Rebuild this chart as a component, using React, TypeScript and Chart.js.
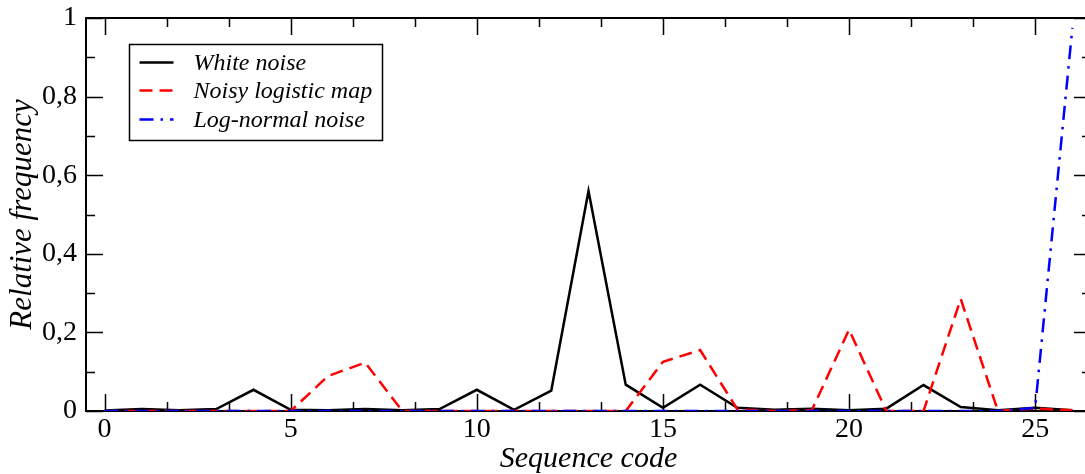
import React, { useEffect, useRef } from 'react';
import { Chart, registerables } from 'chart.js';

Chart.register(...registerables);

const CODES = [0, 1, 2, 3, 4, 5, 6, 7, 8, 9, 10, 11, 12, 13, 14, 15, 16, 17, 18, 19, 20, 21, 22, 23, 24, 25, 26];
const WHITE_NOISE = [0.001, 0.005, 0.002, 0.005, 0.054, 0.003, 0.002, 0.005, 0.002, 0.005, 0.054, 0.003, 0.052, 0.56, 0.067, 0.008, 0.067, 0.008, 0.003, 0.006, 0.002, 0.006, 0.066, 0.01, 0.002, 0.008, 0.002];
const LOGISTIC_MAP = [0, 0, 0, 0, 0, 0, 0.089, 0.123, 0, 0, 0, 0, 0, 0, 0, 0.125, 0.155, 0.004, 0, 0.002, 0.207, 0, 0, 0.285, 0, 0.006, 0.002];
const LOG_NORMAL = [0, 0, 0, 0, 0, 0, 0, 0, 0, 0, 0, 0, 0, 0, 0, 0, 0, 0, 0, 0, 0, 0, 0, 0, 0, 0.008, 0.975];

const SERIES_NAMES = ['White noise', 'Noisy logistic map', 'Log-normal noise'];
const X_TICKS = [0, 5, 10, 15, 20, 25];
const X_TICK_LABELS = ['0', '5', '10', '15', '20', '25'];
const Y_TICKS = [0, 0.2, 0.4, 0.6, 0.8, 1];
const Y_TICK_LABELS = ['0', '0,2', '0,4', '0,6', '0,8', '1'];

const SERIF = '"Liberation Serif", "Times New Roman", serif';
const RED_DASH = [13, 7];
const BLUE_DASH = [14, 7, 2.5, 7];

const framePlugin = {
  id: 'xmgFrame',
  beforeDatasetsDraw(chart: any) {
    const { ctx, chartArea: a, scales } = chart;
    const xs = scales.x;
    const ys = scales.y;
    ctx.save();
    ctx.strokeStyle = '#000';
    ctx.lineWidth = 1.5;
    const major = 17;
    const minor = 9;
    for (let k = -3; k <= 18; k++) {
      const v = (k * 5) / 3;
      if (v < xs.min || v > xs.max) continue;
      const px = Math.round(xs.getPixelForValue(v)) + 0.5;
      const len = k % 3 === 0 ? major : minor;
      ctx.beginPath();
      ctx.moveTo(px, a.bottom);
      ctx.lineTo(px, a.bottom - len);
      ctx.moveTo(px, a.top);
      ctx.lineTo(px, a.top + len);
      ctx.stroke();
    }
    for (let k = 0; k <= 10; k++) {
      const v = k / 10;
      const py = Math.round(ys.getPixelForValue(v)) + 0.5;
      const len = k % 2 === 0 ? major : minor;
      ctx.beginPath();
      ctx.moveTo(a.left, py);
      ctx.lineTo(a.left + len, py);
      ctx.moveTo(a.right, py);
      ctx.lineTo(a.right - len, py);
      ctx.stroke();
    }
    ctx.lineWidth = 2;
    ctx.strokeRect(a.left, a.top, a.right - a.left, a.bottom - a.top);
    ctx.restore();
  },
  afterDatasetsDraw(chart: any) {
    const { ctx, chartArea: a } = chart;
    ctx.save();
    const bx = a.left + 43.5;
    const by = a.top + 26.5;
    ctx.strokeStyle = '#000';
    ctx.lineWidth = 1.5;
    ctx.fillStyle = '#fff';
    ctx.fillRect(bx, by, 253, 96);
    ctx.strokeRect(bx, by, 253, 96);
    const rows = [by + 18, by + 46, by + 75];
    ctx.font = `italic 24px ${SERIF}`;
    ctx.textBaseline = 'middle';
    chart.data.datasets.forEach((ds: any, i: number) => {
      ctx.save();
      ctx.strokeStyle = ds.borderColor;
      ctx.lineWidth = ds.borderWidth;
      ctx.setLineDash(ds.borderDash || []);
      ctx.beginPath();
      ctx.moveTo(bx + 10, rows[i]);
      ctx.lineTo(bx + 44, rows[i]);
      ctx.stroke();
      ctx.restore();
      ctx.fillStyle = '#000';
      ctx.fillText(ds.label, bx + 64, rows[i] + 1);
    });
    ctx.restore();
  },
};

export default function App() {
  const ref = useRef<HTMLCanvasElement | null>(null);
  useEffect(() => {
    if (!ref.current) return;
    const chart = new Chart(ref.current, {
      type: 'line',
      data: {
        datasets: [
          {
            label: SERIES_NAMES[0],
            data: CODES.map((c, i) => ({ x: c, y: WHITE_NOISE[i] })),
            borderColor: '#000000',
            borderWidth: 2.5,
            pointRadius: 0,
            tension: 0,
            order: 2,
          },
          {
            label: SERIES_NAMES[1],
            data: CODES.map((c, i) => ({ x: c, y: LOGISTIC_MAP[i] })),
            borderColor: '#ff0000',
            borderWidth: 2.5,
            borderDash: RED_DASH,
            pointRadius: 0,
            tension: 0,
            order: 1,
          },
          {
            label: SERIES_NAMES[2],
            data: CODES.map((c, i) => ({ x: c, y: LOG_NORMAL[i] })),
            borderColor: '#0000ff',
            borderWidth: 2.5,
            borderDash: BLUE_DASH,
            pointRadius: 0,
            tension: 0,
            order: 0,
          },
        ],
      },
      options: {
        animation: false,
        responsive: false,
        devicePixelRatio: 1,
        layout: { padding: { left: 0, top: 18, right: 9, bottom: 0 } },
        plugins: { legend: { display: false }, tooltip: { enabled: false } },
        scales: {
          x: {
            type: 'linear',
            min: -0.5,
            max: 26.5,
            grid: { display: false, drawTicks: false },
            border: { display: false },
            afterBuildTicks: (s: any) => {
              s.ticks = X_TICKS.map((v) => ({ value: v }));
            },
            afterFit: (s: any) => {
              s.height = 63;
              s.paddingLeft = 0;
              s.paddingRight = 0;
            },
            ticks: {
              color: '#000',
              font: { family: SERIF, size: 28 },
              padding: 2,
              maxRotation: 0,
              autoSkip: false,
              callback: (v: any) => {
                const idx = X_TICKS.indexOf(Number(v));
                return idx >= 0 ? X_TICK_LABELS[idx] : '';
              },
            },
            title: {
              display: true,
              text: 'Sequence code',
              color: '#000',
              font: { family: SERIF, size: 30, style: 'italic' },
              padding: { top: 0, bottom: -3 },
            },
          },
          y: {
            type: 'linear',
            min: 0,
            max: 1,
            grid: { display: false, drawTicks: false },
            border: { display: false },
            afterBuildTicks: (s: any) => {
              s.ticks = Y_TICKS.map((v) => ({ value: v }));
            },
            afterFit: (s: any) => {
              s.width = 86;
              s.paddingTop = 0;
              s.paddingBottom = 0;
            },
            ticks: {
              color: '#000',
              font: { family: SERIF, size: 28 },
              padding: 9,
              autoSkip: false,
              callback: (v: any) => {
                const idx = Y_TICKS.findIndex((t) => Math.abs(t - Number(v)) < 1e-9);
                return idx >= 0 ? Y_TICK_LABELS[idx] : '';
              },
            },
            title: {
              display: true,
              text: 'Relative frequency',
              color: '#000',
              font: { family: SERIF, size: 31, style: 'italic' },
              padding: { top: 4, bottom: 0 },
            },
          },
        },
      },
      plugins: [framePlugin],
    });
    return () => chart.destroy();
  }, []);

  return (
    <div
      style={{
        position: 'fixed',
        left: 0,
        top: 0,
        width: 1085,
        height: 474,
        overflow: 'hidden',
        background: '#fff',
      }}
    >
      <canvas ref={ref} width={1100} height={474} style={{ display: 'block', width: 1100, height: 474 }} />
    </div>
  );
}
